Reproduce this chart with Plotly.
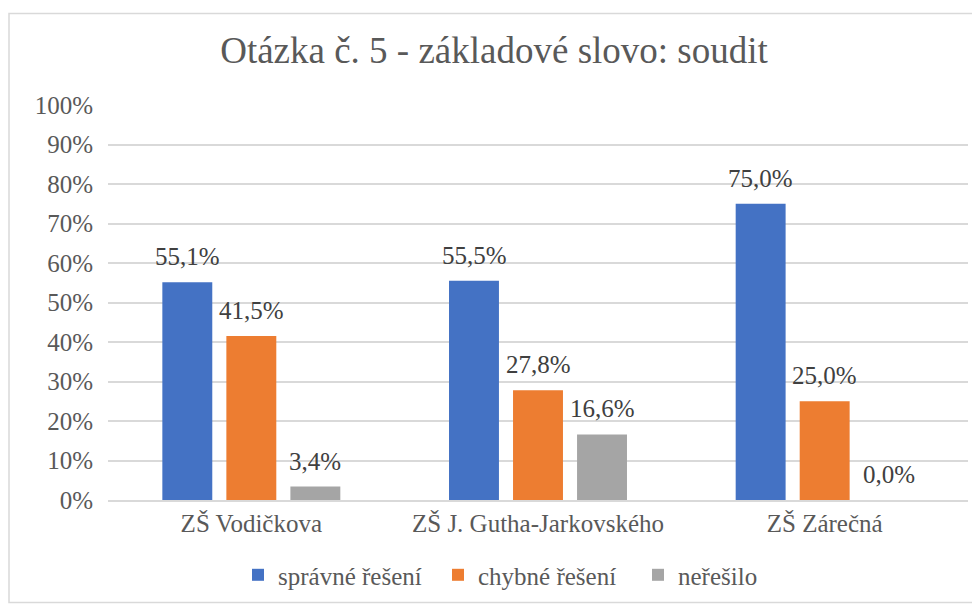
import plotly.graph_objects as go

categories = ["ZŠ Vodičkova", "ZŠ J. Gutha-Jarkovského", "ZŠ Zárečná"]
series_names = ["správné řešení", "chybné řešení", "neřešilo"]
spravne = [55.1, 55.5, 75.0]
chybne = [41.5, 27.8, 25.0]
neresilo = [3.4, 16.6, 0.0]
y_ticks = [0, 10, 20, 30, 40, 50, 60, 70, 80, 90, 100]

colors = ["#4472C4", "#ED7D31", "#A5A5A5"]
values = [spravne, chybne, neresilo]
FONT = "Liberation Serif"
TXT = "#595959"

W, H = 972, 602
L, R, T, B = 100, 12, 97, 108
PW, PH = W - L - R, H - T - B

fig = go.Figure()
for name, vals, col in zip(series_names, values, colors):
    fig.add_trace(go.Bar(x=categories, y=vals, name=name, marker_color=col,
                         marker_line_width=0, hoverinfo="skip"))

offsets = [-64, 0, 64]
for vals, off in zip(values, offsets):
    for c, v in zip(categories, vals):
        fig.add_annotation(x=c, y=v, xref="x", yref="y",
                           text=f"{v:.1f}".replace(".", ",") + "%",
                           showarrow=False, xshift=off, yshift=10,
                           yanchor="bottom",
                           font=dict(family=FONT, size=25, color="#404040"))

fig.add_shape(type="rect", xref="paper", yref="paper",
              x0=(1 - L) / PW, x1=(967 - L) / PW,
              y0=(H - B - 597) / PH, y1=(H - B - 5) / PH,
              line=dict(color="#D9D9D9", width=1.5), layer="below")

fig.update_layout(
    width=W, height=H,
    margin=dict(l=L, r=R, t=T, b=B),
    paper_bgcolor="white", plot_bgcolor="white",
    barmode="group", bargap=0.33, bargroupgap=0.22,
    title=dict(text="Otázka č. 5 - základové slovo: soudit",
               x=0.5, xanchor="center", y=1 - 42 / H, yanchor="middle",
               font=dict(family=FONT, size=37, color=TXT)),
    font=dict(family=FONT, size=25, color=TXT),
    legend=dict(orientation="h", x=0.5, xanchor="center", y=-0.19,
                yanchor="middle", font=dict(family=FONT, size=25, color=TXT),
                traceorder="normal", itemwidth=30, entrywidth=155),
    showlegend=True,
)
fig.update_yaxes(range=[0, 100], tickvals=y_ticks,
                 ticktext=[f"{t}%" for t in y_ticks],
                 showgrid=True, gridcolor="#D9D9D9", gridwidth=1.5,
                 zeroline=False, showline=False, ticks="",
                 ticklabelstandoff=14,
                 tickfont=dict(family=FONT, size=25, color=TXT))
fig.update_xaxes(showline=True, linecolor="#D9D9D9", linewidth=1.5,
                 ticks="", showgrid=False,
                 tickfont=dict(family=FONT, size=25, color=TXT))

fig.write_html("out.html")
